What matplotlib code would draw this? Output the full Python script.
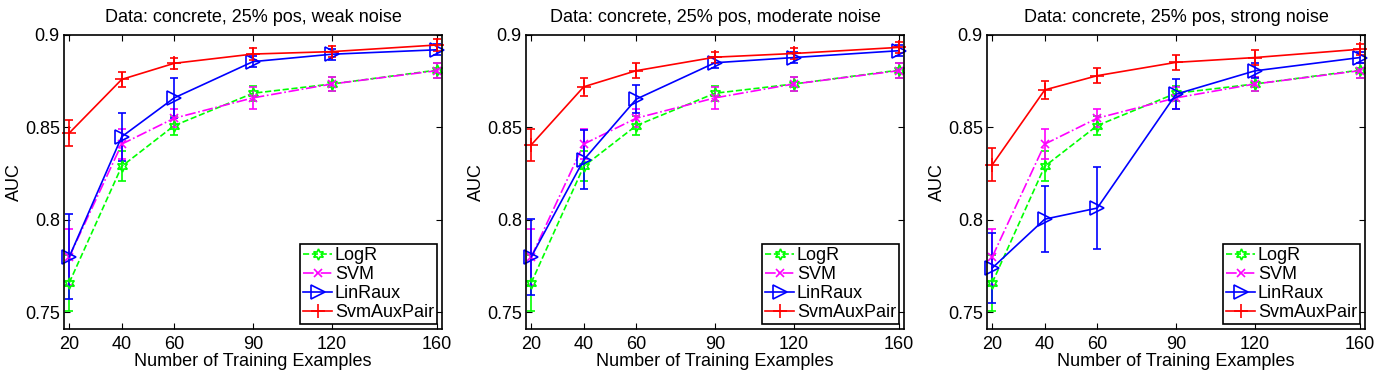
import numpy as np
import matplotlib
matplotlib.use("Agg")
from matplotlib import pyplot as plt
from matplotlib.lines import Line2D
from matplotlib.ticker import FixedLocator, FixedFormatter

plt.rcParams['font.family'] = ['Liberation Sans', 'DejaVu Sans']

n_train = [20, 40, 60, 90, 120, 160]
titles = ["Data: concrete, 25% pos, weak noise",
          "Data: concrete, 25% pos, moderate noise",
          "Data: concrete, 25% pos, strong noise"]
methods = ["LogR", "SVM", "LinRaux", "SvmAuxPair"]

# same baselines in all three panels
logr_mean = [0.766, 0.829, 0.851, 0.8685, 0.8735, 0.881]
logr_err = [0.015, 0.008, 0.005, 0.004, 0.004, 0.004]
svm_mean = [0.780, 0.841, 0.855, 0.866, 0.8735, 0.8807]
svm_err = [0.015, 0.008, 0.005, 0.006, 0.004, 0.004]

linraux_mean = [[0.780, 0.845, 0.866, 0.8856, 0.8896, 0.892],
                [0.780, 0.8325, 0.8653, 0.885, 0.8878, 0.8915],
                [0.774, 0.8004, 0.8064, 0.868, 0.8806, 0.8878]]
linraux_err = [[0.023, 0.013, 0.011, 0.003, 0.003, 0.003],
               [0.0207, 0.016, 0.0077, 0.003, 0.003, 0.003],
               [0.019, 0.018, 0.022, 0.008, 0.004, 0.003]]
pair_mean = [[0.847, 0.876, 0.8847, 0.8897, 0.891, 0.8946],
             [0.8406, 0.872, 0.8807, 0.888, 0.890, 0.8933],
             [0.8298, 0.8703, 0.878, 0.8852, 0.8878, 0.8923]]
pair_err = [[0.007, 0.004, 0.003, 0.003, 0.003, 0.003],
            [0.0085, 0.005, 0.004, 0.003, 0.003, 0.003],
            [0.009, 0.005, 0.004, 0.004, 0.004, 0.003]]

yticks = [0.75, 0.8, 0.85, 0.9]
ytick_labels = ["0.75", "0.8", "0.85", "0.9"]

fig = plt.figure(figsize=(13.81, 3.71), dpi=100)
lefts = [64, 526, 987]
fs = 13

for k in range(3):
    ax = fig.add_axes([lefts[k] / 1381, 1 - 329 / 371, 378 / 1381, 294 / 371])
    series = [
        (logr_mean, logr_err, '#00ff00', '--', (6, 1, 0), 8),
        (svm_mean, svm_err, '#ff00ff', '-.', 'x', 6),
        (linraux_mean[k], linraux_err[k], '#0000ff', '-', '>', 10),
        (pair_mean[k], pair_err[k], '#ff0000', '-', '+', 10),
    ]
    handles = []
    for (m, e, c, ls, mk, ms), name in zip(series, methods):
        ax.errorbar(n_train, m, yerr=e, color=c, ls=ls, lw=1.2, marker=mk,
                    ms=ms, mfc='none', mec=c, mew=1.2, capsize=3,
                    elinewidth=1.2, capthick=1.2, clip_on=False)
        handles.append(Line2D([], [], color=c, ls=ls, lw=1.2, marker=mk,
                              ms=ms, mfc='none', mec=c, mew=1.2))
    ax.set_xlim(18, 162)
    ax.set_ylim(0.741, 0.9)
    ax.set_xticks(n_train)
    ax.yaxis.set_major_locator(FixedLocator(yticks))
    ax.yaxis.set_major_formatter(FixedFormatter(ytick_labels))
    ax.tick_params(direction='in', top=True, right=True, labelsize=fs,
                   length=4, width=0.8)
    ax.tick_params(axis='x', pad=5)
    ax.tick_params(axis='y', pad=3)
    for sp in ax.spines.values():
        sp.set_linewidth(1.2)
    ax.set_title(titles[k], fontsize=fs, pad=9)
    ax.set_xlabel("Number of Training Examples", fontsize=fs, labelpad=0)
    ax.set_ylabel("AUC", fontsize=fs, labelpad=1)
    leg = ax.legend(handles, methods, loc='lower right', fontsize=fs,
                    fancybox=False, framealpha=1, edgecolor='black',
                    borderpad=0.2, handlelength=1.6, handletextpad=0.15,
                    labelspacing=0.1, borderaxespad=0.25)
    leg.get_frame().set_linewidth(1.2)

fig.savefig("out.png", dpi=100)
